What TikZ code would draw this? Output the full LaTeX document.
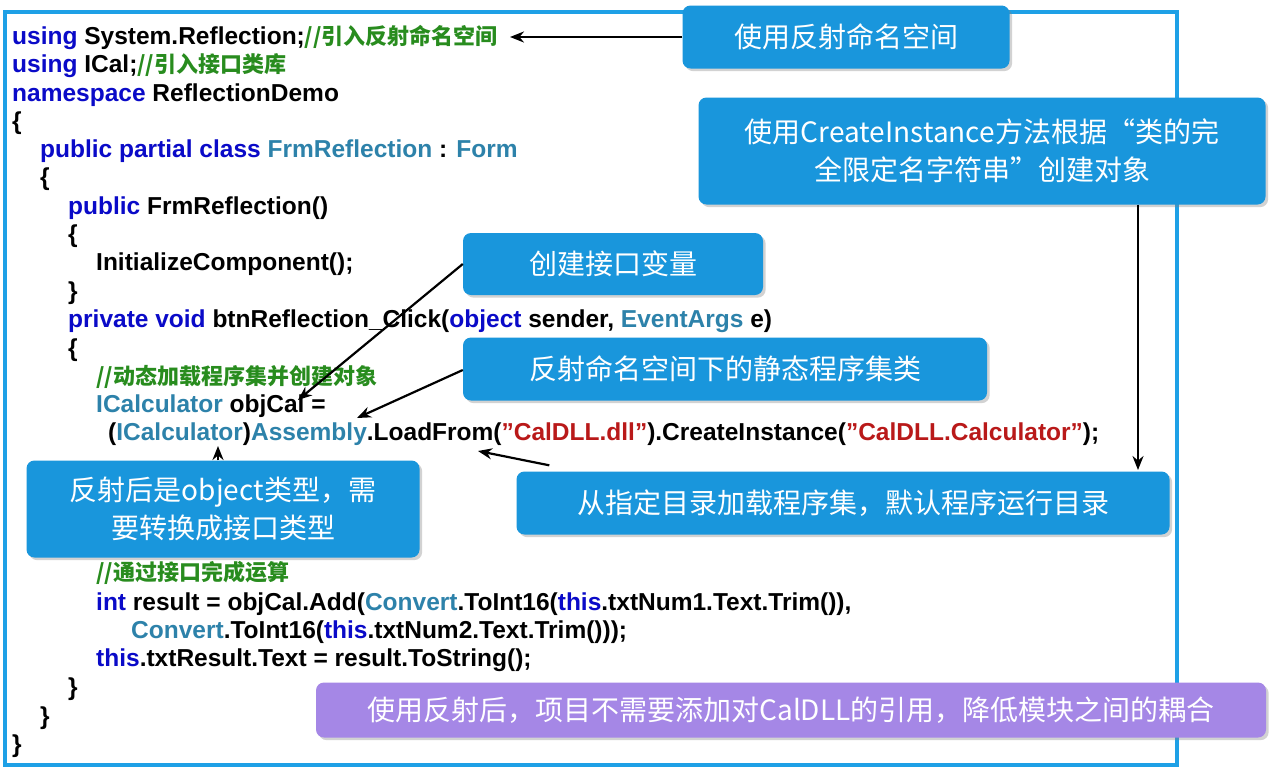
\documentclass[tikz,border=0pt]{standalone}
\usepackage{fontspec}
\setmainfont{Liberation Sans}
\newfontfamily\cjk{Noto Sans CJK SC}
\newfontfamily\cjkbold{Noto Sans CJK SC Bold}
\usetikzlibrary{arrows.meta,shadows}
\definecolor{kwblue}{RGB}{10,10,200}
\definecolor{tyteal}{RGB}{45,130,170}
\definecolor{strred}{RGB}{185,25,25}
\definecolor{cmgreen}{RGB}{40,140,30}
\definecolor{frameblue}{RGB}{30,160,230}
\definecolor{callblue}{RGB}{25,150,220}
\definecolor{callpurple}{RGB}{165,135,230}
\newcommand{\kw}[1]{\textcolor{kwblue}{#1}}
\newcommand{\ty}[1]{\textcolor{tyteal}{#1}}
\newcommand{\st}[1]{\textcolor{strred}{#1}}
\newcommand{\qt}{{\char"22}}
\newcommand{\cm}[1]{\textcolor{cmgreen}{\cjk\fontsize{22}{24}\selectfont #1}}
\tikzset{
  codeline/.style={anchor=base west, inner sep=0pt, font=\bfseries\fontsize{24.5}{26}\selectfont},
  callout/.style={rounded corners=8pt, fill=callblue, text=white, align=center,
    font=\cjk\fontsize{28}{38}\selectfont, drop shadow={opacity=0.35}},
  pointer/.style={-{Stealth[length=14pt,width=11pt]}, line width=2.2pt, black}
}
\begin{document}
\begin{tikzpicture}[x=1pt,y=-1pt]
    \useasboundingbox (0,0) rectangle (1269,771);
    \fill[white] (0,0) rectangle (1269,771);
    \draw[frameblue, line width=4pt] (5,12) rectangle (1177,765);

    % code
    \node[codeline] (l1) at (12,44) {\kw{using} System.Reflection;\cm{//引入反射命名空间}};
    \node[codeline] (l2) at (12,72) {\kw{using} ICal;\cm{//引入接口类库}};
    \node[codeline] (l3) at (12,101) {\kw{namespace} ReflectionDemo};
    \node[codeline] (l4) at (12,129) {\{};
    \node[codeline] (l5) at (40,157) {\kw{public partial class} \ty{FrmReflection} : \ty{Form}};
    \node[codeline] (l6) at (40,185) {\{};
    \node[codeline] (l7) at (68,214) {\kw{public} FrmReflection()};
    \node[codeline] (l8) at (68,242) {\{};
    \node[codeline] (l9) at (96,270) {InitializeComponent();};
    \node[codeline] (l10) at (68,299) {\}};
    \node[codeline] (l11) at (68,327) {\kw{private void} btnReflection\_Click(\kw{object} sender, \ty{EventArgs} e)};
    \node[codeline] (l12) at (68,356) {\{};
    \node[codeline] (l13) at (96,384) {\cm{//动态加载程序集并创建对象}};
    \node[codeline] (l14) at (96,412) {\ty{ICalculator} objCal =};
    \node[codeline] (l15) at (108,440) {(\ty{ICalculator})\ty{Assembly}.LoadFrom(\st{\qt CalDLL.dll\qt}).CreateInstance(\st{\qt CalDLL.Calculator\qt});};
    \node[codeline] (l16) at (96,580) {\cm{//通过接口完成运算}};
    \node[codeline] (l17) at (96,610) {\kw{int} result = objCal.Add(\ty{Convert}.ToInt16(\kw{this}.txtNum1.Text.Trim()),};
    \node[codeline] (l18) at (131,638) {\ty{Convert}.ToInt16(\kw{this}.txtNum2.Text.Trim()));};
    \node[codeline] (l19) at (96,666) {\kw{this}.txtResult.Text = result.ToString();};
    \node[codeline] (l20) at (68,695) {\}};
    \node[codeline] (l21) at (40,724) {\}};
    \node[codeline] (l22) at (12,752) {\}};

    % callouts
    \node[callout, minimum width=327pt, minimum height=63pt] (ns) at (846,37) {使用反射命名空间};
    \node[callout, minimum width=567pt, minimum height=107pt] (ci) at (982,151) {使用CreateInstance方法根据“类的完\\全限定名字符串”创建对象};
    \node[callout, minimum width=300pt, minimum height=62pt] (iv) at (613,264) {创建接口变量};
    \node[callout, minimum width=524pt, minimum height=63pt] (asm) at (725,369) {反射命名空间下的静态程序集类};
    \node[callout, minimum width=393pt, minimum height=97pt] (cast) at (223,509) {反射后是object类型，需\\要转换成接口类型};
    \node[callout, minimum width=653pt, minimum height=63pt] (dir) at (843,503) {从指定目录加载程序集，默认程序运行目录};
    \node[callout, fill=callpurple, minimum width=950pt, minimum height=55pt] (note) at (791,710) {使用反射后，项目不需要添加对CalDLL的引用，降低模块之间的耦合};

    \coordinate (tns) at (510,37);
    \coordinate (tci) at (1138,470);
    \coordinate (tiv) at (298,400);
    \coordinate (tasm) at (357,418);
    \coordinate (tcast) at (218,446);
    \coordinate (tdir) at (478,451);

    \draw[pointer] (ns.west) -- (tns);
    \draw[pointer] (ci.south -| tci) -- (tci);
    \draw[pointer] (iv.west) -- (tiv);
    \draw[pointer] ([yshift=-1pt]asm.west) -- (tasm);
    \draw[pointer] (cast.north -| tcast) -- (tcast);
    \draw[pointer] ([xshift=33pt,yshift=6pt]dir.north west) -- (tdir);
\end{tikzpicture}
\end{document}
